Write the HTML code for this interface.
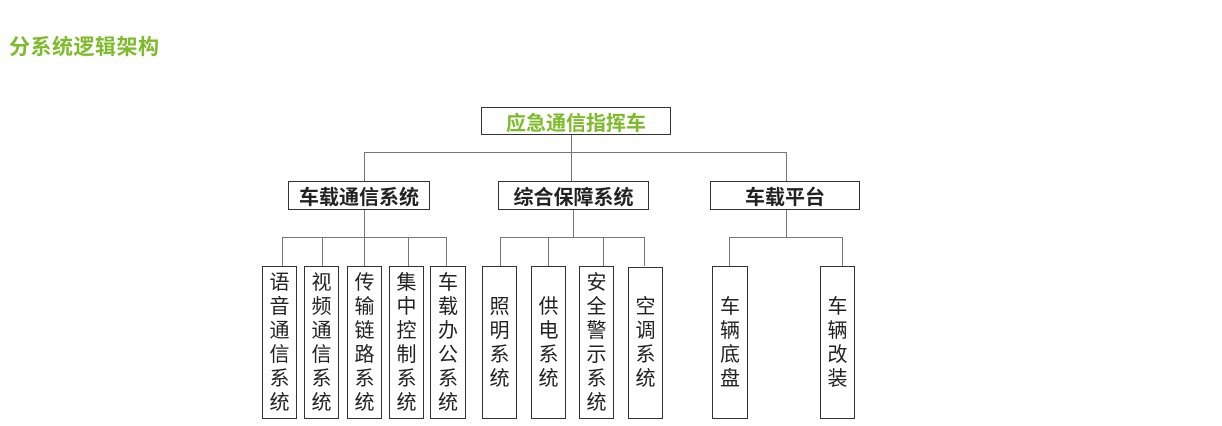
<!DOCTYPE html>
<html><head><meta charset="utf-8"><style>
body{margin:0;width:1222px;height:426px;background:#fff;position:relative;overflow:hidden;font-family:"Liberation Sans","Noto Sans CJK SC",sans-serif}
.t{position:absolute;left:9px;top:35px;font-size:21px;font-weight:bold;color:#7dbb2a;letter-spacing:0.5px;line-height:26px}
.b{position:absolute;border:1.5px solid #333;box-sizing:border-box;background:#fff;display:flex;align-items:center;justify-content:center;font-weight:bold;font-size:20px;color:#222}
.l{position:absolute;border:1.5px solid #333;box-sizing:border-box;background:#fff;font-size:20px;line-height:24px;color:#222;text-align:center;display:flex;flex-direction:column;justify-content:center}
.h{position:absolute;height:1px;background:#777}
.v{position:absolute;width:1px;background:#777}
</style></head><body>
<div class="t">分系统逻辑架构</div>
<div class="v" style="left:571px;top:134px;height:47px"></div>
<div class="h" style="left:364px;top:152px;width:423px"></div>
<div class="v" style="left:364px;top:152px;height:29px"></div>
<div class="v" style="left:786px;top:152px;height:29px"></div>
<div class="v" style="left:364px;top:209px;height:57px"></div>
<div class="h" style="left:282px;top:237px;width:165px"></div>
<div class="v" style="left:282px;top:237px;height:29px"></div>
<div class="v" style="left:322px;top:237px;height:29px"></div>
<div class="v" style="left:408px;top:237px;height:29px"></div>
<div class="v" style="left:446px;top:237px;height:29px"></div>
<div class="v" style="left:573px;top:209px;height:28px"></div>
<div class="h" style="left:500px;top:237px;width:145px"></div>
<div class="v" style="left:500px;top:237px;height:29px"></div>
<div class="v" style="left:548px;top:237px;height:29px"></div>
<div class="v" style="left:603px;top:237px;height:29px"></div>
<div class="v" style="left:644px;top:237px;height:29px"></div>
<div class="v" style="left:786px;top:209px;height:28px"></div>
<div class="h" style="left:729px;top:237px;width:114px"></div>
<div class="v" style="left:729px;top:237px;height:29px"></div>
<div class="v" style="left:842px;top:237px;height:29px"></div>
<div class="b" style="left:481px;top:107px;width:190px;height:28px;color:#7dbb2a">应急通信指挥车</div>
<div class="b" style="left:288px;top:181px;width:142px;height:29px">车载通信系统</div>
<div class="b" style="left:498px;top:181px;width:151px;height:29px">综合保障系统</div>
<div class="b" style="left:710px;top:181px;width:150px;height:29px">车载平台</div>
<div class="l" style="left:262px;top:266px;width:35px;height:153px">语<br>音<br>通<br>信<br>系<br>统</div>
<div class="l" style="left:304px;top:266px;width:35px;height:153px">视<br>频<br>通<br>信<br>系<br>统</div>
<div class="l" style="left:347px;top:266px;width:35px;height:153px">传<br>输<br>链<br>路<br>系<br>统</div>
<div class="l" style="left:389px;top:266px;width:35px;height:153px">集<br>中<br>控<br>制<br>系<br>统</div>
<div class="l" style="left:430px;top:266px;width:36px;height:153px">车<br>载<br>办<br>公<br>系<br>统</div>
<div class="l" style="left:482px;top:266px;width:35px;height:153px">照<br>明<br>系<br>统</div>
<div class="l" style="left:531px;top:266px;width:35px;height:153px">供<br>电<br>系<br>统</div>
<div class="l" style="left:579px;top:266px;width:35px;height:153px">安<br>全<br>警<br>示<br>系<br>统</div>
<div class="l" style="left:628px;top:267px;width:35px;height:152px">空<br>调<br>系<br>统</div>
<div class="l" style="left:712px;top:266px;width:36px;height:153px">车<br>辆<br>底<br>盘</div>
<div class="l" style="left:820px;top:266px;width:35px;height:153px">车<br>辆<br>改<br>装</div>
</body></html>
